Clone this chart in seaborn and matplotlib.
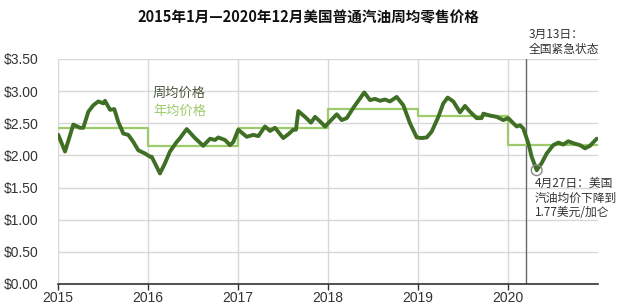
import matplotlib
matplotlib.use("Agg")
import matplotlib.pyplot as plt
import seaborn as sns
import pandas as pd

# ---- data ----
week_year = [2015.003, 2015.078, 2015.170, 2015.244, 2015.281, 2015.337, 2015.392, 2015.448,
             2015.503, 2015.522, 2015.578, 2015.626, 2015.670, 2015.726, 2015.781, 2015.837,
             2015.892, 2015.967, 2016.022, 2016.041, 2016.133, 2016.189, 2016.244, 2016.319,
             2016.356, 2016.430, 2016.522, 2016.614, 2016.689, 2016.744, 2016.781, 2016.856,
             2016.911, 2016.948, 2017.003, 2017.097, 2017.170, 2017.226, 2017.300, 2017.356,
             2017.411, 2017.503, 2017.559, 2017.614, 2017.644, 2017.670, 2017.744, 2017.811,
             2017.856, 2017.911, 2017.967, 2018.022, 2018.097, 2018.152, 2018.208, 2018.281,
             2018.337, 2018.403, 2018.467, 2018.522, 2018.578, 2018.633, 2018.689, 2018.763,
             2018.837, 2018.911, 2018.986, 2019.041, 2019.097, 2019.152, 2019.226, 2019.281,
             2019.330, 2019.392, 2019.467, 2019.522, 2019.578, 2019.652, 2019.707, 2019.726,
             2019.800, 2019.874, 2019.948, 2020.003, 2020.059, 2020.097, 2020.133, 2020.170,
             2020.226, 2020.263, 2020.319, 2020.374, 2020.430, 2020.503, 2020.559, 2020.614,
             2020.670, 2020.726, 2020.800, 2020.856, 2020.911, 2020.986]
week_price = [2.32, 2.06, 2.48, 2.43, 2.43, 2.68, 2.78, 2.84,
              2.81, 2.85, 2.71, 2.72, 2.52, 2.34, 2.32, 2.21,
              2.08, 2.03, 1.98, 1.98, 1.72, 1.88, 2.06, 2.21,
              2.27, 2.41, 2.27, 2.15, 2.26, 2.24, 2.28, 2.24,
              2.16, 2.21, 2.40, 2.29, 2.32, 2.30, 2.45, 2.38,
              2.43, 2.27, 2.33, 2.40, 2.40, 2.69, 2.60, 2.51,
              2.60, 2.53, 2.45, 2.53, 2.64, 2.55, 2.58, 2.74,
              2.85, 2.98, 2.86, 2.88, 2.85, 2.87, 2.84, 2.91,
              2.78, 2.50, 2.28, 2.27, 2.28, 2.37, 2.60, 2.81,
              2.90, 2.84, 2.67, 2.77, 2.68, 2.58, 2.58, 2.65,
              2.62, 2.60, 2.55, 2.58, 2.50, 2.45, 2.47, 2.42,
              2.19, 1.98, 1.77, 1.88, 2.03, 2.16, 2.20, 2.17,
              2.22, 2.19, 2.16, 2.11, 2.15, 2.26]
years = [2015, 2016, 2017, 2018, 2019, 2020]
year_avg = [2.43, 2.15, 2.42, 2.72, 2.61, 2.17]
y_ticks = [0.0, 0.5, 1.0, 1.5, 2.0, 2.5, 3.0, 3.5]
y_labels = ["$0.00", "$0.50", "$1.00", "$1.50", "$2.00", "$2.50", "$3.00", "$3.50"]
title = "2015年1月—2020年12月美国普通汽油周均零售价格"
emergency_year = 2020.2
low_year, low_price = 2020.319, 1.77

sns.set_theme(style="whitegrid")
plt.rcParams["font.family"] = ["Noto Sans CJK SC", "DejaVu Sans"]

fig = plt.figure(figsize=(6.4, 3.05), dpi=100)
ax = fig.add_axes([58 / 640, 1 - 284 / 305, 540 / 640, 225 / 305])

dark = "#3f6f24"
light = "#9dcb6b"

avg_df = pd.DataFrame({"year": years + [2021], "avg": year_avg + [year_avg[-1]]})
ax.step(avg_df["year"], avg_df["avg"], where="post", color=light, lw=1.6, zorder=2)

wk = pd.DataFrame({"year": week_year, "price": week_price})
sns.lineplot(data=wk, x="year", y="price", ax=ax, color=dark, lw=2.8, zorder=3)

ax.axvline(emergency_year, color="#666666", lw=1.0, zorder=1)
ax.scatter([low_year], [low_price], s=60, facecolors="none", edgecolors="#888888",
           linewidths=1.0, zorder=4)

ax.set_xlim(2015, 2021)
ax.set_ylim(0, 3.5)
ax.set_xticks(years)
ax.set_xticklabels([str(y) for y in years], fontsize=10, color="#333333",
                   family=["Liberation Sans", "DejaVu Sans"])
ax.set_yticks(y_ticks)
ax.set_yticklabels(y_labels, fontsize=10, color="#333333",
                   family=["Liberation Sans", "DejaVu Sans"])
ax.set_xlabel("")
ax.set_ylabel("")
ax.grid(True, color="#d8d8d8", lw=1.0)
for s in ["top", "right", "left"]:
    ax.spines[s].set_visible(False)
ax.spines["bottom"].set_color("#333333")
ax.spines["bottom"].set_linewidth(1.2)
ax.tick_params(axis="x", bottom=True, length=4, width=1, color="#333333", pad=1)
ax.tick_params(axis="y", left=False, pad=8)

fig.text(308 / 640, 1 - 18 / 305, title, ha="center", va="center", fontsize=10.5,
         color="#111111", fontweight="bold")
fig.text(529 / 640, 1 - 34 / 305, "3月13日：", ha="left", va="center", fontsize=8.5, color="#333333")
fig.text(529 / 640, 1 - 50 / 305, "全国紧急状态", ha="left", va="center", fontsize=8.5, color="#333333")

fig.text(153 / 640, 1 - 93 / 305, "周均价格", ha="left", va="center", fontsize=9.5, color="#4a5a3a")
fig.text(153 / 640, 1 - 111 / 305, "年均价格", ha="left", va="center", fontsize=9.5, color=light)

for i, line in enumerate(["4月27日：美国", "汽油均价下降到", "1.77美元/加仑"]):
    fig.text(535 / 640, 1 - (183 + 15 * i) / 305, line, ha="left", va="center",
             fontsize=8.5, color="#333333")

fig.savefig("out.png", dpi=100)
